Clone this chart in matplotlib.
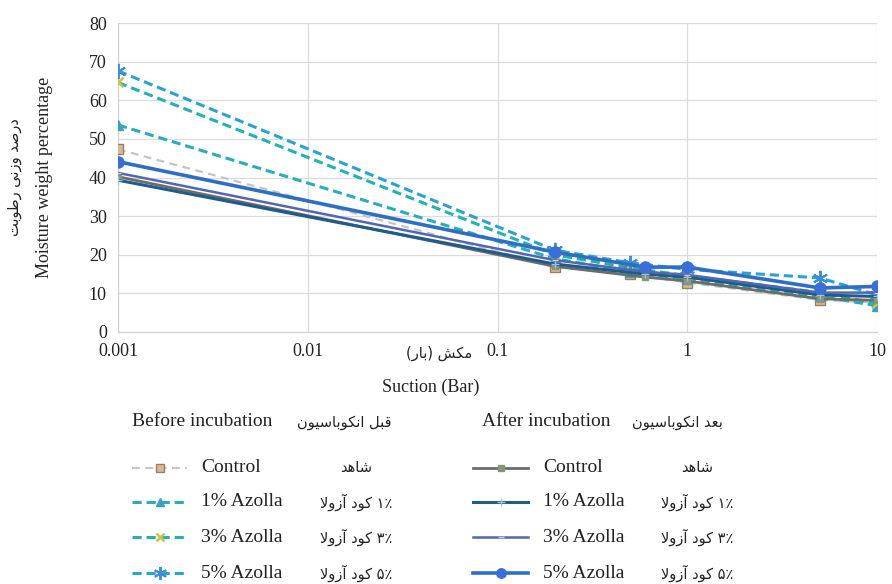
import matplotlib
matplotlib.use("Agg")
import matplotlib.pyplot as plt
from matplotlib.lines import Line2D

# ---------------- data ----------------
suction_before = [0.001, 0.2, 0.5, 1, 5, 10]
suction_after = [0.001, 0.2, 0.6, 1, 5, 10]

before_control = [47.3, 16.8, 15.0, 12.8, 8.3, 7.6]
before_1 = [53.6, 19.0, 15.6, 13.6, 9.2, 6.8]
before_3 = [64.6, 20.0, 16.6, 14.6, 10.2, 7.4]
before_5 = [67.6, 21.2, 17.9, 16.2, 14.0, 9.6]

after_control = [40.2, 17.0, 14.2, 13.2, 8.6, 8.2]
after_1 = [39.3, 17.6, 15.0, 14.2, 9.6, 9.2]
after_3 = [41.2, 18.6, 15.6, 14.8, 10.2, 10.2]
after_5 = [44.1, 20.7, 16.8, 16.8, 11.4, 11.8]

x_ticks = [0.001, 0.01, 0.1, 1, 10]
x_tick_labels = ["0.001", "0.01", "0.1", "1", "10"]
y_ticks = [0, 10, 20, 30, 40, 50, 60, 70, 80]

en_names = ["Control", "1% Azolla", "3% Azolla", "5% Azolla"]
fa_names = ["شاهد", "۱٪ کود آزولا", "۳٪ کود آزولا", "۵٪ کود آزولا"]

# ---------------- simple Persian shaping ----------------
FORMS = {
    'ا': ('\uFE8D', '\uFE8E', None, None), 'آ': ('\uFE81', '\uFE82', None, None),
    'ب': ('\uFE8F', '\uFE90', '\uFE91', '\uFE92'), 'ت': ('\uFE95', '\uFE96', '\uFE97', '\uFE98'),
    'د': ('\uFEA9', '\uFEAA', None, None), 'ر': ('\uFEAD', '\uFEAE', None, None),
    'ز': ('\uFEAF', '\uFEB0', None, None), 'س': ('\uFEB1', '\uFEB2', '\uFEB3', '\uFEB4'),
    'ش': ('\uFEB5', '\uFEB6', '\uFEB7', '\uFEB8'), 'ص': ('\uFEB9', '\uFEBA', '\uFEBB', '\uFEBC'),
    'ط': ('\uFEC1', '\uFEC2', '\uFEC3', '\uFEC4'), 'ع': ('\uFEC9', '\uFECA', '\uFECB', '\uFECC'),
    'ق': ('\uFED5', '\uFED6', '\uFED7', '\uFED8'), 'ل': ('\uFEDD', '\uFEDE', '\uFEDF', '\uFEE0'),
    'م': ('\uFEE1', '\uFEE2', '\uFEE3', '\uFEE4'), 'ن': ('\uFEE5', '\uFEE6', '\uFEE7', '\uFEE8'),
    'ه': ('\uFEE9', '\uFEEA', '\uFEEB', '\uFEEC'), 'و': ('\uFEED', '\uFEEE', None, None),
    'ک': ('\uFB8E', '\uFB8F', '\uFB90', '\uFB91'), 'ی': ('\uFBFC', '\uFBFD', '\uFBFE', '\uFBFF'),
}
LAM_ALEF = {'ا': ('\uFEFB', '\uFEFC'), 'آ': ('\uFEF5', '\uFEF6')}


def joins_forward(c):
    return c in FORMS and FORMS[c][2] is not None


def rtl(s):
    out = []
    i = 0
    n = len(s)
    while i < n:
        c = s[i]
        prev = s[i - 1] if i > 0 else ''
        pj = joins_forward(prev)
        if c == 'ل' and i + 1 < n and s[i + 1] in LAM_ALEF:
            out.append(LAM_ALEF[s[i + 1]][1 if pj else 0])
            i += 2
            continue
        if c in FORMS:
            nxt = s[i + 1] if i + 1 < n else ''
            nj = joins_forward(c) and nxt in FORMS
            iso, fin, ini, med = FORMS[c]
            if pj and nj:
                out.append(med)
            elif pj:
                out.append(fin)
            elif nj:
                out.append(ini)
            else:
                out.append(iso)
        else:
            out.append(c)
        i += 1
    out = out[::-1]
    mirror = {'(': ')', ')': '('}
    out = [mirror.get(c, c) for c in out]
    # keep number runs left-to-right
    res, run = [], []
    numchars = set('۰۱۲۳۴۵۶۷۸۹0123456789٪%')
    for c in out:
        if c in numchars:
            run.append(c)
        else:
            res.extend(run[::-1]); run = []
            res.append(c)
    res.extend(run[::-1])
    return ''.join(res)


SERIF = ['Liberation Serif', 'DejaVu Serif']
FA = ['DejaVu Sans']

# ---------------- styles ----------------
styles_before = [
    dict(color='#C4C4C4', lw=1.6, ls=(0, (3.5, 2.5)), marker='s', ms=7, mfc='#D8B89A', mec='#9C7E62', mew=1.0),
    dict(color='#28AEBB', lw=2.2, ls=(0, (3.0, 1.6)), marker='^', ms=7, mfc='#3AA0C8', mec='#3AA0C8', mew=1.0),
    dict(color='#24B2B0', lw=2.2, ls=(0, (3.0, 1.6)), marker='x', ms=7, mfc='#C8C840', mec='#C8C840', mew=1.8),
    dict(color='#2AA2D2', lw=2.2, ls=(0, (3.0, 1.6)), marker=(6, 2, 0), ms=11, mfc='#3A8FD8', mec='#3A8FD8', mew=1.4),
]
styles_after = [
    dict(color='#6A6E68', lw=2.0, ls='-', marker='s', ms=5, mfc='#8A9478', mec='#8A9478', mew=1.0),
    dict(color='#1F5C8A', lw=2.2, ls='-', marker='+', ms=6, mfc='#9EC3E0', mec='#9EC3E0', mew=1.0),
    dict(color='#5466B0', lw=1.8, ls='-', marker='_', ms=5, mfc='#C8CCE8', mec='#C8CCE8', mew=1.0),
    dict(color='#2E6FC4', lw=2.6, ls='-', marker='o', ms=8, mfc='#3A6ED8', mec='#3A6ED8', mew=1.0),
]

before_series = [before_control, before_1, before_3, before_5]
after_series = [after_control, after_1, after_3, after_5]

# ---------------- figure ----------------
W, H = 892, 584
fig = plt.figure(figsize=(W / 100, H / 100), dpi=100)


def fx(px):
    return px / W


def fy(py):
    return 1 - py / H


ax = fig.add_axes([fx(118), fy(332), fx(877) - fx(118), fy(23) - fy(332)])

for ys, st in zip(before_series, styles_before):
    ax.plot(suction_before, ys, color=st['color'], lw=st['lw'], ls=st['ls'], marker=st['marker'],
            ms=st['ms'], mfc=st['mfc'], mec=st['mec'], mew=st['mew'], zorder=3)
for ys, st in zip(after_series, styles_after):
    ax.plot(suction_after, ys, color=st['color'], lw=st['lw'], ls=st['ls'], marker=st['marker'],
            ms=st['ms'], mfc=st['mfc'], mec=st['mec'], mew=st['mew'], zorder=4)

ax.set_xscale('log')
ax.set_xlim(0.001, 10)
ax.set_ylim(0, 80)
ax.set_xticks(x_ticks)
ax.set_xticklabels(x_tick_labels)
ax.minorticks_off()
ax.set_yticks(y_ticks)
ax.grid(True, color='#DCDCDC', lw=0.9)
ax.set_axisbelow(True)
for s in ['top', 'right']:
    ax.spines[s].set_visible(False)
for s in ['left', 'bottom']:
    ax.spines[s].set_color('#D0D0D0')
ax.tick_params(length=0, labelsize=13, pad=8, colors='#222222')
for lab in ax.get_xticklabels() + ax.get_yticklabels():
    lab.set_family(SERIF)

# axis titles
fig.text(fx(431), fy(387), "Suction (Bar)", family=SERIF, fontsize=13, ha='center', va='center', color='#222222')
fig.text(fx(439), fy(353), rtl("مکش (بار)"), family=FA, fontsize=10.5, ha='center', va='center', color='#222222')
fig.text(fx(45), fy(177), "Moisture weight percentage", family=SERIF, fontsize=13, rotation=90,
         ha='center', va='center', color='#222222')
fig.text(fx(15), fy(177), rtl("درصد وزنی رطوبت"), family=FA, fontsize=10.5, rotation=90,
         ha='center', va='center', color='#222222')

# ---------------- custom legend ----------------
row_y = [468, 502, 537, 573]
fig.text(fx(132), fy(422), "Before incubation", family=SERIF, fontsize=14, ha='left', va='center', color='#222222')
fig.text(fx(344), fy(422), rtl("قبل انکوباسیون"), family=FA, fontsize=10.5, ha='center', va='center', color='#222222')
fig.text(fx(482), fy(422), "After incubation", family=SERIF, fontsize=14, ha='left', va='center', color='#222222')
fig.text(fx(677), fy(422), rtl("بعد انکوباسیون"), family=FA, fontsize=10.5, ha='center', va='center', color='#222222')


def legend_row(x0, x1, y, st, en, fa, xen, xfa):
    fig.add_artist(Line2D([fx(x0), fx(x1)], [fy(y), fy(y)], transform=fig.transFigure,
                          color=st['color'], lw=st['lw'], ls=st['ls']))
    fig.add_artist(Line2D([fx((x0 + x1) / 2)], [fy(y)], transform=fig.transFigure, ls='none',
                          marker=st['marker'], ms=st['ms'] * 0.85, mfc=st['mfc'], mec=st['mec'], mew=st['mew']))
    fig.text(fx(xen), fy(y), en, family=SERIF, fontsize=14, ha='left', va='center', color='#222222')
    fig.text(fx(xfa), fy(y), rtl(fa), family=FA, fontsize=10.5, ha='center', va='center', color='#222222')


for i in range(4):
    legend_row(132, 187, row_y[i], styles_before[i], en_names[i], fa_names[i], 201, 356)
    legend_row(473, 528, row_y[i], styles_after[i], en_names[i], fa_names[i], 543, 697)

fig.savefig("out.png", dpi=100)
